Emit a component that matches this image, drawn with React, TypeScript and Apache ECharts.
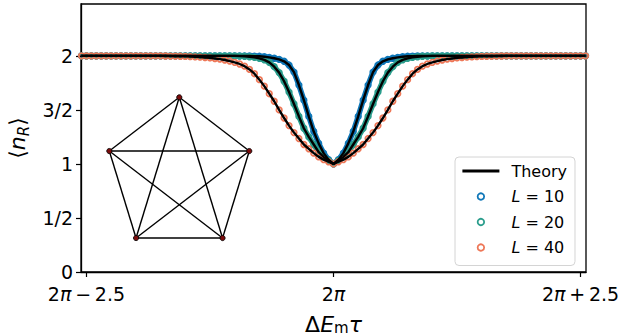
import React, { useEffect, useRef } from "react";
import * as echarts from "echarts";

// offsets from 2π (x = ΔE_m τ − 2π)
const xOffsets = [
  -2.55, -2.5, -2.45, -2.4, -2.35, -2.3, -2.25, -2.2, -2.15, -2.1,
  -2.05, -2, -1.95, -1.9, -1.85, -1.8, -1.75, -1.7, -1.65, -1.6,
  -1.55, -1.5, -1.45, -1.4, -1.35, -1.3, -1.25, -1.2, -1.15, -1.1,
  -1.05, -1, -0.95, -0.9, -0.85, -0.8, -0.75, -0.7, -0.65, -0.6,
  -0.55, -0.5, -0.45, -0.4, -0.35, -0.3, -0.25, -0.2, -0.15, -0.1,
  -0.05, 0,
  0.05, 0.1, 0.15, 0.2, 0.25, 0.3, 0.35, 0.4, 0.45, 0.5,
  0.55, 0.6, 0.65, 0.7, 0.75, 0.8, 0.85, 0.9, 0.95, 1,
  1.05, 1.1, 1.15, 1.2, 1.25, 1.3, 1.35, 1.4, 1.45, 1.5,
  1.55, 1.6, 1.65, 1.7, 1.75, 1.8, 1.85, 1.9, 1.95, 2,
  2.05, 2.1, 2.15, 2.2, 2.25, 2.3, 2.35, 2.4, 2.45, 2.5,
  2.55,
];

const nL10 = [
  2, 2, 2, 2, 2, 2, 2, 2, 2, 2,
  2, 2, 2, 2, 2, 2, 2, 2, 2, 2,
  2, 2, 2, 2, 2, 2, 2, 2, 2, 2,
  2, 2, 2, 2, 2,
  1.998, 1.996, 1.992, 1.986, 1.978, 1.967, 1.95, 1.915,
  1.85, 1.73, 1.59, 1.44, 1.3, 1.19, 1.1, 1.04,
  1,
  1.04, 1.1, 1.19, 1.3, 1.44, 1.59, 1.73, 1.85,
  1.915, 1.95, 1.967, 1.978, 1.986, 1.992, 1.996, 1.998,
  2, 2, 2, 2, 2,
  2, 2, 2, 2, 2, 2, 2, 2, 2, 2,
  2, 2, 2, 2, 2, 2, 2, 2, 2, 2,
  2, 2, 2, 2, 2, 2, 2, 2, 2, 2,
];

const nL20 = [
  2, 2, 2, 2, 2, 2, 2, 2, 2, 2,
  2, 2, 2, 2, 2, 2, 2, 2, 2, 2,
  2, 2, 2, 2, 2, 2, 2, 2, 2, 2,
  2, 2,
  1.998, 1.996, 1.992, 1.986, 1.977, 1.963, 1.94, 1.9, 1.845, 1.765,
  1.665, 1.555, 1.44, 1.33, 1.25, 1.18, 1.11, 1.065, 1.03,
  1,
  1.03, 1.065, 1.11, 1.18, 1.25, 1.33, 1.44, 1.555, 1.665,
  1.765, 1.845, 1.9, 1.94, 1.963, 1.977, 1.986, 1.992, 1.996, 1.998,
  2, 2,
  2, 2, 2, 2, 2, 2, 2, 2, 2, 2,
  2, 2, 2, 2, 2, 2, 2, 2, 2, 2,
  2, 2, 2, 2, 2, 2, 2, 2, 2, 2,
];

const nL40 = [
  2, 2, 2, 2, 2, 2, 2, 2, 2, 2,
  2, 2, 2, 2, 2, 2, 2,
  1.999, 1.998, 1.997, 1.996, 1.995, 1.993, 1.991, 1.988, 1.985, 1.981,
  1.976, 1.97, 1.962, 1.952, 1.94, 1.925, 1.905, 1.875, 1.835, 1.78,
  1.72, 1.65, 1.58, 1.5, 1.425, 1.355, 1.29, 1.235, 1.18, 1.14,
  1.1, 1.065, 1.04, 1.02,
  1,
  1.02, 1.04, 1.065, 1.1,
  1.14, 1.18, 1.235, 1.29, 1.355, 1.425, 1.5, 1.58, 1.65, 1.72,
  1.78, 1.835, 1.875, 1.905, 1.925, 1.94, 1.952, 1.962, 1.97, 1.976,
  1.981, 1.985, 1.988, 1.991, 1.993, 1.995, 1.996, 1.997, 1.998, 1.999,
  2, 2, 2, 2, 2, 2, 2,
  2, 2, 2, 2, 2, 2, 2, 2, 2, 2,
];

const seriesNames = ["L = 10", "L = 20", "L = 40"];
const seriesValues = [nL10, nL20, nL40];
const seriesColors = ["#0f77b8", "#2a9d8c", "#ee7757"];
// dense samples merge into a band in the original (L = 10 and 20)
const bandWidths = [5.5, 5.5, 0];

const yTicks = [0, 0.5, 1, 1.5, 2];
const yTickLabels = ["0", "1/2", "1", "3/2", "2"];
const xTicks = [-2.5, 0, 2.5];
const xTickLabels = ["2{i|π}\u2009−\u20092.5", "2{i|π}", "2{i|π}\u2009+\u20092.5"];

const FONT = "DejaVu Sans";

export default function App() {
  const ref = useRef<HTMLDivElement>(null);

  useEffect(() => {
    document.body.style.margin = "0";
    if (!ref.current) return;
    const chart = echarts.init(ref.current, undefined, { renderer: "svg" });

    // inset: complete graph K5 drawn on a pentagon
    const cx = 179.3;
    const cy = 175.1;
    const rx = 73.6;
    const ry = 77.8;
    const verts: number[][] = [];
    for (let k = 0; k < 5; k++) {
      const a = (-90 + 72 * k) * (Math.PI / 180);
      verts.push([cx + rx * Math.cos(a), cy + ry * Math.sin(a)]);
    }
    const graphics: any[] = [];
    for (let i = 0; i < 5; i++) {
      for (let j = i + 1; j < 5; j++) {
        graphics.push({
          type: "line",
          shape: { x1: verts[i][0], y1: verts[i][1], x2: verts[j][0], y2: verts[j][1] },
          style: { stroke: "#000", lineWidth: 1.4 },
          z: 20,
          silent: true,
        });
      }
    }
    verts.forEach((v) => {
      graphics.push({
        type: "circle",
        shape: { cx: v[0], cy: v[1], r: 2.6 },
        style: { fill: "#7a0c0c", stroke: "#000", lineWidth: 0.8 },
        z: 21,
        silent: true,
      });
    });

    const markerSeries = seriesNames.map((name, s) => ({
      type: "line",
      name,
      data: xOffsets.map((x, i) => [x, seriesValues[s][i]]),
      symbol: "circle",
      symbolSize: 5.5,
      showSymbol: true,
      lineStyle: {
        color: seriesColors[s],
        width: bandWidths[s],
        opacity: bandWidths[s] > 0 ? 1 : 0,
      },
      itemStyle: {
        color: "rgba(0,0,0,0)",
        borderColor: seriesColors[s],
        borderWidth: 1.8,
      },
      z: 2 + s * 0.1,
      silent: true,
      clip: true,
    }));

    const theorySeries = seriesValues.map((vals) => ({
      type: "line",
      name: "Theory",
      data: xOffsets.map((x, i) => [x, vals[i]]),
      symbol: "none",
      showSymbol: false,
      lineStyle: { color: "#000", width: 2.4 },
      itemStyle: { color: "#000" },
      z: 5,
      silent: true,
      clip: true,
    }));

    chart.setOption({
      animation: false,
      backgroundColor: "#fff",
      grid: {
        left: 81,
        right: 33,
        top: 4,
        bottom: 63,
        outerBoundsMode: "none",
        containLabel: false,
        show: true,
        borderColor: "#000",
        borderWidth: 1.3,
        backgroundColor: "transparent",
      },
      xAxis: {
        type: "value",
        min: -2.555,
        max: 2.555,
        splitLine: { show: false },
        axisLine: { show: true, onZero: false, lineStyle: { color: "#000", width: 1.3 } },
        axisTick: {
          show: true,
          customValues: xTicks,
          length: 5,
          lineStyle: { color: "#000", width: 1.2 },
        },
        axisLabel: {
          customValues: xTicks,
          margin: 12,
          color: "#000",
          fontSize: 19,
          fontFamily: FONT,
          formatter: (v: number) => {
            const idx = xTicks.indexOf(v);
            return idx >= 0 ? xTickLabels[idx] : "";
          },
          rich: {
            i: { fontSize: 19, fontFamily: FONT, fontStyle: "italic", color: "#000" },
          },
        },
        name: "{d|Δ}{e|E}{s|m}{t|τ}",
        nameLocation: "middle",
        nameGap: 41,
        nameTextStyle: {
          color: "#000",
          fontSize: 22,
          fontFamily: FONT,
          rich: {
            d: { fontSize: 22, fontFamily: FONT, lineHeight: 22, color: "#000" },
            e: { fontSize: 22, fontFamily: FONT, fontStyle: "italic", lineHeight: 22, color: "#000" },
            s: { fontSize: 15, fontFamily: FONT, verticalAlign: "bottom", lineHeight: 14, color: "#000" },
            t: { fontSize: 22, fontFamily: FONT, fontStyle: "italic", lineHeight: 22, color: "#000" },
          },
        },
      },
      yAxis: {
        type: "value",
        min: 0,
        max: 2.48,
        splitLine: { show: false },
        axisLine: { show: true, onZero: false, lineStyle: { color: "#000", width: 1.3 } },
        axisTick: {
          show: true,
          customValues: yTicks,
          length: 5,
          lineStyle: { color: "#000", width: 1.2 },
        },
        axisLabel: {
          customValues: yTicks,
          margin: 8,
          color: "#000",
          fontSize: 19,
          fontFamily: FONT,
          formatter: (v: number) => {
            const idx = yTicks.indexOf(v);
            return idx >= 0 ? yTickLabels[idx] : "";
          },
        },
        name: "{a|⟨}{n|n}{s|R}{a|⟩}",
        nameLocation: "middle",
        nameRotate: 90,
        nameGap: 46,
        nameTextStyle: {
          color: "#000",
          fontSize: 22,
          fontFamily: FONT,
          rich: {
            a: { fontSize: 22, fontFamily: FONT, lineHeight: 28, color: "#000" },
            n: { fontSize: 22, fontFamily: FONT, fontStyle: "italic", lineHeight: 28, color: "#000" },
            s: { fontSize: 15, fontFamily: FONT, fontStyle: "italic", verticalAlign: "bottom", lineHeight: 18, color: "#000" },
          },
        },
      },
      legend: {
        data: [
          { name: "Theory", itemStyle: { opacity: 0 }, lineStyle: { width: 2.8 } },
          ...seriesNames.map((name, s) => ({
            name,
            icon: "circle",
            itemStyle: { color: "rgba(0,0,0,0)", borderColor: seriesColors[s], borderWidth: 1.8 },
          })),
        ],
        orient: "vertical",
        left: 455,
        top: 157,
        itemWidth: 37,
        itemHeight: 6.5,
        itemGap: 9.5,
        padding: [6, 8, 10, 6],
        borderColor: "#d4d4d4",
        borderWidth: 1,
        borderRadius: 4,
        backgroundColor: "rgba(255,255,255,0.85)",
        selectedMode: false,
        textStyle: {
          color: "#000",
          fontSize: 16,
          fontFamily: FONT,
          rich: {
            g: { width: 7, fontSize: 16, fontFamily: FONT },
            i: { fontSize: 16, fontFamily: FONT, fontStyle: "italic", color: "#000" },
          },
        },
        formatter: (name: string) =>
          "{g| }" + (name.startsWith("L") ? "{i|L}" + name.slice(1) : name),
      },
      graphic: graphics,
      series: [...markerSeries, ...theorySeries],
    });

    return () => {
      chart.dispose();
    };
  }, []);

  return <div ref={ref} style={{ width: 619, height: 335 }} />;
}
